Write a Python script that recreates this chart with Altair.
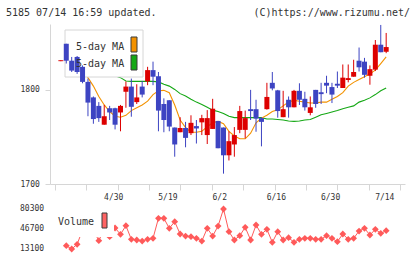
import altair as alt
import pandas as pd

# ---- daily price data (trading days 2021-04-15 .. 2021-07-14), index = trading day
opens = [1830.5, 1849, 1831, 1835, 1824.5, 1808.5, 1792, 1783, 1763, 1780.5,
         1780.5, 1776, 1798, 1803.5, 1787, 1803.5, 1809, 1821, 1814.5, 1785,
         1789, 1760, 1755, 1759.5, 1754, 1761.5, 1765.5, 1752, 1758.5, 1767,
         1760, 1730.5, 1742, 1757.5, 1757.5, 1779.5, 1779.5, 1770, 1779.5, 1807.5,
         1799.5, 1771, 1789.5, 1781.5, 1799, 1790.5, 1775.5, 1800, 1797.5, 1807.5,
         1803, 1806.5, 1802, 1810.5, 1814, 1831, 1830, 1815, 1821.5, 1848,
         1840.5]
highs = [1831.5, 1849, 1835, 1836, 1826, 1812, 1793, 1787, 1784, 1783,
         1781, 1784, 1809, 1812, 1806, 1809.5, 1824.5, 1830, 1819, 1791,
         1789, 1760, 1771, 1766, 1773, 1768, 1773.5, 1778.5, 1790.5, 1767,
         1760, 1756, 1760.5, 1783, 1778, 1800, 1789.5, 1771, 1807.5, 1819,
         1800, 1799, 1793, 1800, 1807, 1798, 1793, 1800, 1807.5, 1815,
         1807.5, 1819.5, 1827, 1827, 1832, 1845, 1834, 1826, 1853, 1869,
         1860.5]
lows = [1830.5, 1828, 1819, 1817, 1807, 1772, 1764, 1766, 1763, 1768,
        1758, 1756, 1781, 1771.5, 1785, 1792, 1805, 1805, 1756, 1755,
        1756, 1729, 1755, 1739, 1752, 1743, 1752, 1742.5, 1758.5, 1738,
        1711, 1725, 1729, 1754, 1748.5, 1768, 1755.5, 1740, 1779, 1799.5,
        1770.5, 1771, 1770.5, 1781.5, 1784, 1778, 1773, 1781, 1785, 1796.5,
        1786, 1802, 1802, 1808, 1814, 1819.5, 1813, 1805.5, 1820, 1840,
        1839]
closes = [1831.5, 1831, 1820.5, 1819, 1808.5, 1786.5, 1769, 1770, 1772, 1776,
          1763, 1783, 1803.5, 1782, 1792, 1795, 1821, 1814, 1778, 1768,
          1761, 1742, 1759.5, 1749, 1765, 1759, 1770, 1770, 1780, 1738,
          1730.5, 1745.5, 1752, 1777.5, 1770, 1777.5, 1769.5, 1766, 1792.5, 1801.5,
          1777.5, 1779.5, 1781.5, 1799, 1789.5, 1781.5, 1781.5, 1785, 1795.5, 1804.5,
          1795, 1804.5, 1813, 1812.5, 1819, 1824, 1816, 1822, 1848, 1840,
          1845.5]

# moving averages (None = not drawn)
ma_short = [None, 1837, 1832, 1830, 1823, 1813, 1804, 1793, 1784, 1777,
            1772, 1771, 1773, 1778, 1781, 1784, 1788, 1795, 1799, 1799.5,
            1797, 1784, 1768, 1760, 1755, 1755, 1756, 1761, 1765, 1766.5,
            1764, 1756, 1751, 1748, 1748, 1754, 1765, 1770, 1773, 1777,
            1779, 1783, 1787, 1789, 1788, 1787, 1786, 1786, 1787, 1787,
            1790, 1793, 1797, 1804, 1808, 1811, 1814, 1817, 1821, 1828,
            1835]
ma_long = [None, 1838, 1836, 1834, 1832, 1829, 1825.5, 1822, 1819, 1817,
           1815, 1813, 1809.5, 1809, 1809, 1809, 1809, 1809, 1808.5, 1806,
           1804, 1800.5, 1796, 1793.5, 1790, 1787, 1784.5, 1781.5, 1778.5, 1777,
           1775, 1772, 1770.5, 1770.5, 1770.5, 1770.5, 1770.5, 1770.5, 1769, 1769,
           1768.5, 1768, 1767, 1766.5, 1767, 1768, 1768.5, 1771, 1773.5, 1775,
           1776.5, 1778, 1780, 1781.5, 1783, 1787, 1789, 1791.5, 1795, 1799,
           1802]

volume = [None, 18600, 13100, 21000, 45000, 41700, 45000, 27000, 46700, 33800,
          48400, 37800, 52200, 29400, 28200, 26500, 29400, 31100, 64700, 64700,
          47900, 59000, 38300, 34900, 33800, 31100, 26500, 47900, 34900, 51700,
          80300, 42200, 28200, 35400, 49600, 28200, 53400, 37800, 46200, 24400,
          42200, 28200, 32100, 24400, 29400, 31100, 31100, 29400, 29400, 35400,
          31100, 25400, 38300, 29400, 31100, 43300, 47900, 36600, 46200, 39500,
          43800]

date_pos = [10, 20, 30, 40, 50, 60]
date_text = ["4/30", "5/19", "6/2", "6/16", "6/30", "7/14"]
price_ticks = [1700, 1800]
vol_ticks = [80300, 46700, 13100]

header_left = "5185 07/14 16:59 updated."
header_right = "(C)https://www.rizumu.net/"
legend_names = ["5-day MA", "5-day MA"]

# ---- styling
FONT = "DejaVu Sans Mono"
UP, DOWN = "#dd0000", "#3d44c2"
ORANGE, GREEN = "#f39200", "#15a815"
VOLC = "#ff5a5a"
AXIS_C = "#d6d6d6"
TXT = "#333333"

W, H = 355, 160
X_LO, X_HI = -1.08, 62.55
x_tick_vals = [X_LO + k * (X_HI - X_LO) / 11 for k in range(12)]

n = len(closes)
idx = list(range(n))
candles = pd.DataFrame({"i": idx, "open": opens, "high": highs, "low": lows, "close": closes})
candles["dir"] = ["up" if c >= o else "down" for o, c in zip(opens, closes)]
short_df = pd.DataFrame({"i": idx, "v": ma_short}).dropna()
long_df = pd.DataFrame({"i": idx, "v": ma_long}).dropna()
vol_df = pd.DataFrame({"i": idx, "v": volume}).dropna()
dates_df = pd.DataFrame({"i": date_pos, "t": date_text})
vticks_df = pd.DataFrame({"v": vol_ticks})
one = pd.DataFrame({"k": [0]})

x_scale = alt.Scale(domain=[X_LO, X_HI], nice=False, zero=False)
x_axis = alt.Axis(values=x_tick_vals, labels=False, title=None, grid=False,
                  tickSize=6, tickColor=AXIS_C, domainColor=AXIS_C)


def X():
    return alt.X("i:Q", scale=x_scale, axis=x_axis)


p_scale = alt.Scale(domain=[1700, 1870], nice=False, zero=False)
p_axis = alt.Axis(values=price_ticks, format="d", title=None, grid=False, tickSize=5,
                  tickColor=AXIS_C, domainColor=AXIS_C, labelAlign="left",
                  labelPadding=25, labelFont=FONT, labelFontSize=8,
                  labelColor=TXT, labelBaseline="middle")
v_scale = alt.Scale(domain=[min(v for v in volume if v), max(v for v in volume if v)],
                    range=[225, 185], nice=False, zero=False)

dir_color = alt.Color("dir:N", scale=alt.Scale(domain=["up", "down"], range=[UP, DOWN]),
                      legend=None)

# ---- price panel
line_long = alt.Chart(long_df).mark_line(color=GREEN, strokeWidth=1.1).encode(
    x=X(), y=alt.Y("v:Q", scale=p_scale, axis=p_axis))
line_short = alt.Chart(short_df).mark_line(color=ORANGE, strokeWidth=1.1).encode(
    x=X(), y=alt.Y("v:Q", scale=p_scale, axis=p_axis))
legend_box = alt.Chart(one).mark_rect(fill="white", stroke=AXIS_C, strokeWidth=1).encode(
    x=alt.value(15), x2=alt.value(93), y=alt.value(6), y2=alt.value(53))
wicks = alt.Chart(candles).mark_rule(strokeWidth=1).encode(
    x=X(), y=alt.Y("low:Q", scale=p_scale, axis=p_axis), y2="high:Q", color=dir_color)
bodies = alt.Chart(candles).mark_bar(size=5).encode(
    x=X(), y=alt.Y("open:Q", scale=p_scale, axis=p_axis), y2="close:Q", color=dir_color)


def legend_row(label, yy, colour, sy):
    txt = alt.Chart(one).mark_text(align="left", baseline="middle", font=FONT,
                                   fontSize=10, color=TXT).encode(
        x=alt.value(26), y=alt.value(yy), text=alt.value(label))
    sw = alt.Chart(one).mark_rect(fill=colour, stroke="#3a3a3a", strokeWidth=1).encode(
        x=alt.value(81), x2=alt.value(87), y=alt.value(sy), y2=alt.value(sy + 15))
    return txt + sw


price = alt.layer(line_long, line_short, legend_box, wicks, bodies,
                  legend_row(legend_names[0], 23, ORANGE, 13),
                  legend_row(legend_names[1], 40, GREEN, 31))

# ---- volume panel
vol_line = alt.Chart(vol_df).mark_line(color=VOLC, strokeWidth=1).encode(
    x=X(), y=alt.Y("v:Q", scale=v_scale, axis=None))
vol_pts = alt.Chart(vol_df).mark_point(shape="diamond", filled=True, size=46,
                                       color=VOLC, opacity=1).encode(
    x=X(), y=alt.Y("v:Q", scale=v_scale, axis=None))
vol_box = alt.Chart(one).mark_rect(fill="white").encode(
    x=alt.value(7), x2=alt.value(64), y=alt.value(180), y2=alt.value(213))
vol_text = alt.Chart(one).mark_text(align="left", baseline="middle", font=FONT,
                                    fontSize=10, color=TXT).encode(
    x=alt.value(8), y=alt.value(198), text=alt.value("Volume"))
vol_sw = alt.Chart(one).mark_rect(fill="#ff6464", stroke="#3a3a3a", strokeWidth=1).encode(
    x=alt.value(52), x2=alt.value(57), y=alt.value(189), y2=alt.value(204))
vol_lbl = alt.Chart(vticks_df).mark_text(align="left", baseline="middle", font=FONT,
                                         fontSize=8, color=TXT).encode(
    x=alt.value(-30), y=alt.Y("v:Q", scale=v_scale, axis=None), text="v:Q")

vol = alt.layer(vol_line, vol_pts, vol_box, vol_text, vol_sw, vol_lbl)

# ---- date labels and header
date_lbl = alt.Chart(dates_df).mark_text(align="left", baseline="middle", dx=-11,
                                         font=FONT, fontSize=8, color=TXT).encode(
    x=X(), y=alt.value(174), text="t:N")
head_l = alt.Chart(one).mark_text(align="left", baseline="middle", font=FONT,
                                  fontSize=10, color=TXT).encode(
    x=alt.value(-44), y=alt.value(-11), text=alt.value(header_left))
head_r = alt.Chart(one).mark_text(align="right", baseline="middle", font=FONT,
                                  fontSize=10, color=TXT).encode(
    x=alt.value(360), y=alt.value(-11), text=alt.value(header_right))

chart = alt.layer(price, vol, date_lbl, head_l, head_r).resolve_scale(
    y="independent"
).properties(
    width=W, height=H,
    autosize=alt.AutoSizeParams(type="none"),
    padding={"left": 50, "top": 24, "right": 15, "bottom": 75},
    background="white",
).configure_view(stroke=None)

chart.save("out.html", embed_options={"renderer": "svg", "actions": False})
